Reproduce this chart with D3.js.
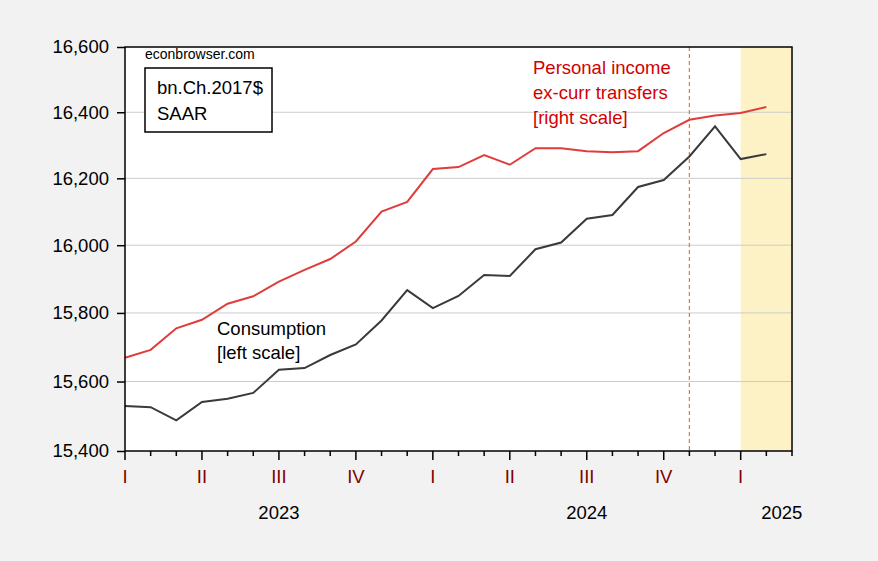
<!DOCTYPE html>
<html>
<head>
<meta charset="utf-8">
<script src="https://cdn.jsdelivr.net/npm/d3@7"></script>
<style>
  body { margin: 0; background: #f2f2f2; }
  svg { display: block; font-family: "Liberation Sans", Arial, sans-serif; }
</style>
</head>
<body>
<svg id="chart" width="878" height="561"></svg>
<script>
// monthly, Jan 2023 .. Feb 2025
const months = ["2023-01","2023-02","2023-03","2023-04","2023-05","2023-06","2023-07","2023-08","2023-09",
    "2023-10","2023-11","2023-12","2024-01","2024-02","2024-03","2024-04","2024-05","2024-06","2024-07",
    "2024-08","2024-09","2024-10","2024-11","2024-12","2025-01","2025-02"];

// real PCE, bn.Ch.2017$ SAAR (left scale)
const consumption = [15529, 15526, 15488, 15541, 15550, 15567, 15634, 15639, 15677, 15708, 15778, 15867,
    15814, 15850, 15912, 15909, 15988, 16008, 16079, 16090, 16174, 16195, 16266, 16357, 16258, 16273];

// personal income ex-current transfers (right scale)
const income = [15669, 15692, 15755, 15780, 15827, 15849, 15892, 15927, 15959, 16011, 16100, 16129,
    16228, 16234, 16270, 16241, 16291, 16291, 16282, 16279, 16282, 16337, 16377, 16390, 16398, 16416];

const leftTicks = [15400, 15600, 15800, 16000, 16200, 16400, 16600];
const quarterLabels = ["I", "II", "III", "IV"];
const years = [2023, 2024, 2025];

function drawChart() {
    const margin = {top: 47, right: 86, bottom: 110, left: 125};
    const width = 878 - margin.left - margin.right;
    const height = 561 - margin.top - margin.bottom;

    const svg = d3.select("#chart")
        .append("g")
        .attr("transform", `translate(${margin.left},${margin.top})`);

    const nPeriods = months.length;  // axis runs one month past the last point

    const x = d3.scaleLinear()
        .domain([0, nPeriods])
        .range([0, width]);

    const y = d3.scaleLog()
        .domain([15400, 16600])
        .range([height, 0]);

    const yRight = d3.scaleLog()
        .domain([15400, 16600])
        .range([height, 0]);

    svg.append("rect")
        .attr("width", width)
        .attr("height", height)
        .attr("fill", "white");

    // shading for 2025
    const shadeStart = months.indexOf("2025-01");
    svg.append("rect")
        .attr("x", x(shadeStart))
        .attr("width", x(nPeriods) - x(shadeStart))
        .attr("height", height)
        .attr("fill", "#fdf2c5");

    // gridlines
    svg.append("g")
        .selectAll("line")
        .data(leftTicks.slice(1, -1))
        .join("line")
        .attr("x1", 0)
        .attr("x2", width)
        .attr("y1", d => y(d))
        .attr("y2", d => y(d))
        .attr("stroke", "#cccccc")
        .attr("stroke-width", 1);

    // election month marker
    const marker = months.indexOf("2024-11");
    svg.append("line")
        .attr("x1", x(marker))
        .attr("x2", x(marker))
        .attr("y1", 0)
        .attr("y2", height)
        .attr("stroke", "#ec7a1c")
        .attr("stroke-width", 1.2)
        .attr("stroke-dasharray", "4,3");

    const line = scale => d3.line()
        .x((d, i) => x(i))
        .y(d => scale(d));

    svg.append("path")
        .datum(income)
        .attr("fill", "none")
        .attr("stroke", "#e03c3c")
        .attr("stroke-width", 2)
        .attr("d", line(yRight));

    svg.append("path")
        .datum(consumption)
        .attr("fill", "none")
        .attr("stroke", "#3a3a3a")
        .attr("stroke-width", 2)
        .attr("d", line(y));

    // frame
    svg.append("rect")
        .attr("width", width)
        .attr("height", height)
        .attr("fill", "none")
        .attr("stroke", "black")
        .attr("stroke-width", 1.5);

    // left axis
    const yAxis = svg.append("g")
        .call(d3.axisLeft(y).tickValues(leftTicks).tickFormat(d3.format(",")).tickSize(8).tickSizeOuter(0));
    yAxis.select(".domain").remove();
    yAxis.selectAll("line").attr("stroke", "black").attr("stroke-width", 1.5);
    yAxis.selectAll("text")
        .attr("x", -16)
        .style("font-size", "18.5px")
        .attr("fill", "black");

    // bottom axis: monthly ticks, longer at quarters
    const tickIdx = d3.range(0, nPeriods + 1);
    svg.append("g")
        .selectAll("line")
        .data(tickIdx)
        .join("line")
        .attr("x1", d => x(d))
        .attr("x2", d => x(d))
        .attr("y1", height)
        .attr("y2", d => height + (d % 3 === 0 && d < nPeriods ? 9 : 5))
        .attr("stroke", "black")
        .attr("stroke-width", 1.5);

    svg.append("g")
        .selectAll("text")
        .data(tickIdx.filter(d => d % 3 === 0 && d < nPeriods))
        .join("text")
        .attr("x", d => x(d))
        .attr("y", height + 32)
        .attr("text-anchor", "middle")
        .style("font-size", "18.5px")
        .attr("fill", "#800000")
        .text(d => quarterLabels[(d / 3) % 4]);

    svg.append("g")
        .selectAll("text")
        .data(years)
        .join("text")
        .attr("x", d => d === 2025 ? x(nPeriods - 0.4) : x((d - 2023) * 12 + 6))
        .attr("y", height + 68)
        .attr("text-anchor", "middle")
        .style("font-size", "18.5px")
        .attr("fill", "black")
        .text(d => d);

    // annotations
    svg.append("text")
        .attr("x", 20)
        .attr("y", 12)
        .style("font-size", "14px")
        .text("econbrowser.com");

    svg.append("rect")
        .attr("x", 20)
        .attr("y", 21)
        .attr("width", 127)
        .attr("height", 64)
        .attr("fill", "white")
        .attr("stroke", "black")
        .attr("stroke-width", 1.5);

    svg.append("text")
        .attr("x", 32)
        .attr("y", 47)
        .style("font-size", "18.5px")
        .text("bn.Ch.2017$");
    svg.append("text")
        .attr("x", 32)
        .attr("y", 73)
        .style("font-size", "18.5px")
        .text("SAAR");

    const redNote = svg.append("text")
        .attr("fill", "#d40000")
        .style("font-size", "18.5px");
    ["Personal income", "ex-curr transfers", "[right scale]"].forEach((t, i) => {
        redNote.append("tspan")
            .attr("x", 408)
            .attr("y", 27 + i * 25)
            .text(t);
    });

    const blackNote = svg.append("text")
        .attr("fill", "black")
        .style("font-size", "18.5px");
    ["Consumption", "[left scale]"].forEach((t, i) => {
        blackNote.append("tspan")
            .attr("x", 92)
            .attr("y", 288 + i * 24)
            .text(t);
    });
}

document.addEventListener('DOMContentLoaded', drawChart);
</script>
</body>
</html>
